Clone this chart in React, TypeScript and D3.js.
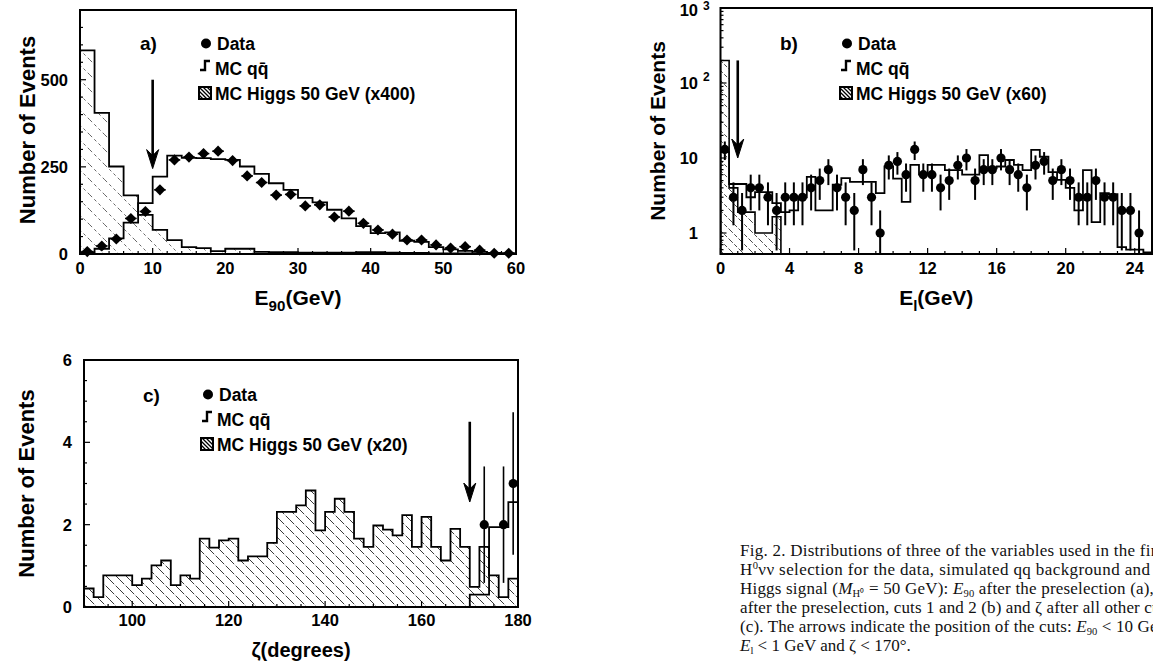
import React from 'react';
import * as d3 from 'd3';

// ---------- Panel a : E90 (2 GeV bins from 0 to 60) ----------
const e90BinStart = 0;
const e90BinWidth = 2;
const e90Data = [7, 23, 43, 102, 122, 184, 270, 278, 288, 295, 268, 224, 205, 169, 171, 138, 141, 106, 123, 88, 69, 57, 40, 40, 26, 17, 21, 11, 2, 2];
const e90QQ = [5, 15, 45, 90, 146, 222, 282, 276, 275, 272, 270, 251, 230, 203, 184, 161, 148, 127, 102, 80, 60, 62, 38, 35, 20, 13, 9, 6, 3, 2];
const e90Higgs = [584, 405, 251, 168, 112, 69, 40, 20, 17, 8, 15, 15, 6, 5, 5, 4, 4, 4, 4, 5, 5, 4, 3, 3, 2, 2, 2, 1, 1, 1];
const e90XTicks = [0, 10, 20, 30, 40, 50, 60];
const e90YTicks = [0, 250, 500];

// ---------- Panel b : El (0.5 GeV bins from 0 to 25), log scale ----------
const elBinStart = 0;
const elBinWidth = 0.5;
const elData = [13, 3, 2, 4, 4, 3, 2, 3, 3, 3, 4, 5, 7, 4, 3, 2, 7, 3, 1, 8, 9, 6, 13, 6, 6, 4, 5, 8, 10, 5, 7, 7, 10, 7, 6, 4, 8, 9, 5, 7, 5, 3, 3, 5, 3, 3, 2, 2, 1];
const elQQ = [12, 4.5, 4.5, 3, 3.5, 3.5, 2.5, 1.9, 2, 3, 5.6, 2, 2, 4.4, 5.4, 4.8, 4.8, 4.8, 3.4, 7.7, 5.3, 2.6, 8.1, 6, 8.1, 8.1, 6.9, 6.9, 6, 6, 10.9, 7.3, 7.7, 9.4, 8.1, 6.9, 12.8, 10.4, 6.5, 5.1, 4, 2, 6.9, 1.4, 3.4, 3.3, 0.65, 0.6, 0.6, 0.55];
const elHiggs = [200, 4, 1.9, 1.9, 1, 1, 1.65];
const elXTicks = [0, 4, 8, 12, 16, 20, 24];
const elYTicks = [1, 10, 100, 1000];
const elYTickBase = ['1', '10', '10', '10'];
const elYTickExp = ['', '', '2', '3'];

// ---------- Panel c : zeta (2 degree bins from 90 to 180) ----------
const zetaBinStart = 90;
const zetaBinWidth = 2;
const zetaHiggs = [0.45, 0.24, 0.77, 0.77, 0.77, 0.53, 0.69, 1.01, 1.13, 0.53, 0.77, 0.69, 1.66, 1.44, 1.62, 1.66, 1.13, 1.23, 1.23, 1.56, 2.31, 2.31, 2.47, 2.83, 1.86, 2.31, 2.63, 2.31, 1.66, 1.46, 1.98, 1.88, 1.74, 2.23, 1.46, 2.19, 1.46, 1.13, 1.9, 1.46, 0.49, 1.46, 0.77, 0.24, 0.69];
const zetaQQ = [0, 0, 0, 0, 0, 0, 0, 0, 0, 0, 0, 0, 0, 0, 0, 0, 0, 0, 0, 0, 0, 0, 0, 0, 0, 0, 0, 0, 0, 0, 0, 0, 0, 0, 0, 0, 0, 0, 0, 0, 0.3, 0.3, 1.94, 1.94, 2.55];
const zetaDataX = [173, 177, 179];
const zetaDataY = [2, 2, 3];
const zetaXTicks = [100, 120, 140, 160, 180];
const zetaYTicks = [0, 2, 4, 6];

// cut arrows (data units)
const cutA = { x: 10, from: 500, to: 245 };
const cutB = { x: 1, from: 200, to: 10 };
const cutC = { x: 170, from: 4.5, to: 2.55 };

type Seg = { t: string; k?: 'sub' | 'sup' | 'i' | 'isub' };
const captionLines: Seg[][] = [
  [{ t: 'Fig. 2. Distributions of three of the variables used in the final' }],
  [{ t: 'H' }, { t: '0', k: 'sup' }, { t: 'νν selection for the data, simulated qq background and' }],
  [{ t: 'Higgs signal (' }, { t: 'M', k: 'i' }, { t: 'H⁰', k: 'sub' }, { t: ' = 50 GeV): ' }, { t: 'E', k: 'i' }, { t: '90', k: 'sub' }, { t: ' after the preselection (a), ' }, { t: 'E', k: 'i' }, { t: 'l', k: 'sub' }],
  [{ t: 'after the preselection, cuts 1 and 2 (b) and ζ after all other cuts' }],
  [{ t: '(c). The arrows indicate the position of the cuts: ' }, { t: 'E', k: 'i' }, { t: '90', k: 'sub' }, { t: ' < 10 GeV,' }],
  [{ t: 'E', k: 'i' }, { t: 'l', k: 'sub' }, { t: ' < 1 GeV and ζ < 170°.' }],
];
const captionWidths = [432, 410, 432, 432, 432, 0];

const SANS = '"Liberation Sans", Arial, Helvetica, sans-serif';
const SERIF = '"Liberation Serif", "Times New Roman", serif';

function Segs({ segs, size, subShift = 0.3, supShift = 0.4, small = 0.72 }: { segs: Seg[]; size: number; subShift?: number; supShift?: number; small?: number }) {
  let shift = 0;
  return (
    <>
      {segs.map((s, i) => {
        const target = s.k === 'sub' || s.k === 'isub' ? size * subShift : s.k === 'sup' ? -size * supShift : 0;
        const dy = target - shift;
        shift = target;
        const isSmall = s.k === 'sub' || s.k === 'sup' || s.k === 'isub';
        return (
          <tspan key={i} dy={dy} fontSize={isSmall ? size * small : size} fontStyle={s.k === 'i' || s.k === 'isub' ? 'italic' : undefined}>
            {s.t}
          </tspan>
        );
      })}
    </>
  );
}

function stepPath(start: number, w: number, vals: number[], xs: (v: number) => number, ys: (v: number) => number, floor: number, nBins?: number) {
  const n = nBins ?? vals.length;
  const pts: [number, number][] = [[start, floor]];
  for (let i = 0; i < n; i++) {
    const v = vals[i] ?? floor;
    pts.push([start + i * w, v]);
    pts.push([start + (i + 1) * w, v]);
  }
  pts.push([start + n * w, floor]);
  return d3
    .line<[number, number]>()
    .x((d) => xs(d[0]))
    .y((d) => ys(Math.max(d[1], floor)))(pts) as string;
}

function Arrow({ x, y0, y1 }: { x: number; y0: number; y1: number }) {
  return (
    <g>
      <line x1={x} x2={x} y1={y0} y2={y1 - 10} stroke="#000" strokeWidth={2.6} />
      <path d={`M${x},${y1} L${x - 6},${y1 - 19} L${x},${y1 - 13} L${x + 6},${y1 - 19} Z`} fill="#000" stroke="#000" strokeWidth={1} />
    </g>
  );
}

function Legend({ x, y, scale }: { x: number; y: number; scale: string }) {
  // x = text start, y = baseline of first row
  return (
    <g fontFamily={SANS} fontWeight="bold" fontSize={17.5}>
      <circle cx={x - 11} cy={y - 6.5} r={5} fill="#000" />
      <text x={x} y={y}>Data</text>
      <path d={`M${x - 17},${y + 20} H${x - 12} V${y + 11} H${x - 7}`} fill="none" stroke="#000" strokeWidth={2.4} />
      <text x={x - 2} y={y + 25}>MC qq̄</text>
      <rect x={x - 18} y={y + 37} width={12} height={12} fill="url(#hatchLegend)" stroke="#000" strokeWidth={2} />
      <text x={x - 2} y={y + 50}>{`MC Higgs 50 GeV (${scale})`}</text>
    </g>
  );
}

export default function App() {
  const W = 1153;
  const H = 665;

  // Panel a scales
  const ax = d3.scaleLinear().domain([0, 60]).range([80, 516]);
  const ay = d3.scaleLinear().domain([0, 700]).range([254, 10]);
  // Panel b scales
  const bx = d3.scaleLinear().domain([0, 25]).range([720.5, 1152]);
  const by = d3.scaleLog().domain([0.525, 1000]).range([254, 8]);
  // Panel c scales
  const cx = d3.scaleLinear().domain([90, 180]).range([84, 518]);
  const cy = d3.scaleLinear().domain([0, 6]).range([607, 360]);

  const diamond = d3.symbol(d3.symbolSquare, 62)() as string;

  const aHiggsPath = stepPath(e90BinStart, e90BinWidth, e90Higgs, ax, ay, 0);
  const aQQPath = stepPath(e90BinStart, e90BinWidth, e90QQ, ax, ay, 0);
  const bHiggsPath = stepPath(elBinStart, elBinWidth, elHiggs, bx, by, 0.525, 8);
  const bQQPath = stepPath(elBinStart, elBinWidth, elQQ, bx, by, 0.525);
  const cHiggsPath = stepPath(zetaBinStart, zetaBinWidth, zetaHiggs, cx, cy, 0);
  const cQQPath = stepPath(zetaBinStart, zetaBinWidth, zetaQQ, cx, cy, 0);

  const bMin = 0.525;

  return (
    <svg width={W} height={H} viewBox={`0 0 ${W} ${H}`} style={{ position: 'absolute', left: 0, top: 0, background: '#fff' }}>
      <defs>
        <pattern id="hatchA" patternUnits="userSpaceOnUse" width={15} height={15}>
          <path d="M0,0 L15,15 M-7.5,7.5 L7.5,22.5 M7.5,-7.5 L22.5,7.5" stroke="#555" strokeWidth={0.9} strokeDasharray="3 3" />
        </pattern>
        <pattern id="hatchB" patternUnits="userSpaceOnUse" width={10} height={10}>
          <path d="M0,0 L10,10 M-5,5 L5,15 M5,-5 L15,5" stroke="#333" strokeWidth={0.9} strokeDasharray="4 2" />
        </pattern>
        <pattern id="hatchC" patternUnits="userSpaceOnUse" width={10} height={10}>
          <path d="M0,0 L10,10 M-5,5 L5,15 M5,-5 L15,5" stroke="#222" strokeWidth={0.9} strokeDasharray="6 2" />
        </pattern>
        <pattern id="hatchLegend" patternUnits="userSpaceOnUse" width={4} height={4}>
          <path d="M0,0 L4,4 M-2,2 L2,6 M2,-2 L6,2" stroke="#000" strokeWidth={1.3} />
        </pattern>
        <clipPath id="clipB">
          <rect x={720.5} y={8} width={431.5} height={246} />
        </clipPath>
      </defs>

      {/* ================= Panel a ================= */}
      <g>
        <path d={aHiggsPath + 'Z'} fill="url(#hatchA)" stroke="none" />
        <path d={aHiggsPath} fill="none" stroke="#000" strokeWidth={1.8} />
        <path d={aQQPath} fill="none" stroke="#000" strokeWidth={1.8} />
        {e90Data.map((v, i) => {
          const xc = e90BinStart + (i + 0.5) * e90BinWidth;
          return (
            <g key={i}>
              <line x1={ax(xc - 0.8)} x2={ax(xc + 0.8)} y1={ay(v)} y2={ay(v)} stroke="#000" strokeWidth={1.5} />
              <path d={diamond} transform={`translate(${ax(xc)},${ay(v)}) rotate(45)`} fill="#000" />
            </g>
          );
        })}
        <rect x={ax(0)} y={ay(700)} width={ax(60) - ax(0)} height={ay(0) - ay(700)} fill="none" stroke="#000" strokeWidth={2} />
        {d3.range(0, 61, 2).map((t) => (
          <line key={'amx' + t} x1={ax(t)} x2={ax(t)} y1={ay(0)} y2={ay(0) - (t % 10 === 0 ? 6 : 3)} stroke="#000" strokeWidth={1.2} />
        ))}
        {d3.range(0, 701, 50).map((t) => (
          <line key={'amy' + t} x1={ax(0)} x2={ax(0) + (t % 250 === 0 ? 6 : 3)} y1={ay(t)} y2={ay(t)} stroke="#000" strokeWidth={1.2} />
        ))}
        <g fontFamily={SANS} fontWeight="bold" fontSize={16.5}>
          {e90XTicks.map((t) => (
            <text key={'ax' + t} x={ax(t)} y={ay(0) + 20} textAnchor="middle">{t}</text>
          ))}
          {e90YTicks.map((t) => (
            <text key={'ay' + t} x={ax(0) - 12} y={ay(t) + 6} textAnchor="end">{t}</text>
          ))}
        </g>
        <text transform={`translate(35,${(ay(0) + ay(700)) / 2 - 2}) rotate(-90)`} textAnchor="middle" fontFamily={SANS} fontWeight="bold" fontSize={22}>
          Number of Events
        </text>
        <text x={(ax(0) + ax(60)) / 2} y={305} textAnchor="middle" fontFamily={SANS} fontWeight="bold" fontSize={21}>
          <Segs segs={[{ t: 'E' }, { t: '90', k: 'sub' }, { t: '(GeV)' }]} size={21} />
        </text>
        <text x={140} y={50} fontFamily={SANS} fontWeight="bold" fontSize={19}>a)</text>
        <Legend x={217} y={50} scale="x400" />
        <Arrow x={ax(cutA.x)} y0={ay(cutA.from)} y1={ay(cutA.to)} />
      </g>

      {/* ================= Panel b ================= */}
      <g>
        <g clipPath="url(#clipB)">
          <path d={bHiggsPath + 'Z'} fill="url(#hatchB)" stroke="none" />
          <path d={bHiggsPath} fill="none" stroke="#000" strokeWidth={1.6} />
          <path d={bQQPath} fill="none" stroke="#000" strokeWidth={1.8} />
        </g>
        {elData.map((v, i) => {
          const xc = elBinStart + (i + 0.5) * elBinWidth;
          const e = Math.sqrt(v);
          return (
            <g key={i}>
              <line x1={bx(xc)} x2={bx(xc)} y1={by(Math.max(v - e, bMin))} y2={by(v + e)} stroke="#000" strokeWidth={2} />
              <circle cx={bx(xc)} cy={by(v)} r={4.6} fill="#000" />
            </g>
          );
        })}
        <rect x={bx(0)} y={by(1000)} width={bx(25) - bx(0)} height={by(bMin) - by(1000)} fill="none" stroke="#000" strokeWidth={2} />
        {d3.range(0, 25, 1).map((t) => (
          <line key={'bmx' + t} x1={bx(t)} x2={bx(t)} y1={by(bMin)} y2={by(bMin) - (t % 4 === 0 ? 6 : 3)} stroke="#000" strokeWidth={1.2} />
        ))}
        {[0.6, 0.7, 0.8, 0.9, 1, 2, 3, 4, 5, 6, 7, 8, 9, 10, 20, 30, 40, 50, 60, 70, 80, 90, 100, 200, 300, 400, 500, 600, 700, 800, 900].map((t) => (
          <line key={'bmy' + t} x1={bx(0)} x2={bx(0) + (elYTicks.includes(t) ? 6 : 3)} y1={by(t)} y2={by(t)} stroke="#000" strokeWidth={1.2} />
        ))}
        <g fontFamily={SANS} fontWeight="bold" fontSize={16.5}>
          {elXTicks.map((t) => (
            <text key={'bx' + t} x={bx(t)} y={by(bMin) + 20} textAnchor="middle">{t}</text>
          ))}
          {elYTicks.map((t, i) => (
            <text key={'by' + t} x={698} y={Math.max(by(t) + 6, 16)} textAnchor="end">
              {elYTickBase[i]}
            </text>
          ))}
          {elYTicks.map((t, i) =>
            elYTickExp[i] ? (
              <text key={'bye' + t} x={703} y={Math.max(by(t) - 2, 10)} fontSize={12}>{elYTickExp[i]}</text>
            ) : null
          )}
        </g>
        <text transform={`translate(665,${(by(bMin) + by(1000)) / 2}) rotate(-90)`} textAnchor="middle" fontFamily={SANS} fontWeight="bold" fontSize={21}>
          Number of Events
        </text>
        <text x={(bx(0) + bx(25)) / 2} y={305} textAnchor="middle" fontFamily={SANS} fontWeight="bold" fontSize={21}>
          <Segs segs={[{ t: 'E' }, { t: 'l', k: 'sub' }, { t: '(GeV)' }]} size={21} />
        </text>
        <text x={780} y={50} fontFamily={SANS} fontWeight="bold" fontSize={19}>b)</text>
        <Legend x={858} y={50} scale="x60" />
        <Arrow x={bx(cutB.x)} y0={by(cutB.from)} y1={by(cutB.to)} />
      </g>

      {/* ================= Panel c ================= */}
      <g>
        <path d={cHiggsPath + 'Z'} fill="url(#hatchC)" stroke="none" />
        <path d={cHiggsPath} fill="none" stroke="#000" strokeWidth={1.8} />
        <path d={cQQPath} fill="none" stroke="#000" strokeWidth={1.8} />
        {zetaDataX.map((xv, i) => {
          const v = zetaDataY[i];
          const e = Math.sqrt(v);
          return (
            <g key={i}>
              <line x1={cx(xv)} x2={cx(xv)} y1={cy(v - e)} y2={cy(v + e)} stroke="#000" strokeWidth={1.6} />
              <circle cx={cx(xv)} cy={cy(v)} r={4.6} fill="#000" />
            </g>
          );
        })}
        <rect x={cx(90)} y={cy(6)} width={cx(180) - cx(90)} height={cy(0) - cy(6)} fill="none" stroke="#000" strokeWidth={2} />
        {d3.range(90, 181, 5).map((t) => (
          <line key={'cmx' + t} x1={cx(t)} x2={cx(t)} y1={cy(0)} y2={cy(0) - (t % 20 === 0 ? 6 : 3)} stroke="#000" strokeWidth={1.2} />
        ))}
        {d3.range(0, 6.01, 0.5).map((t) => (
          <line key={'cmy' + t} x1={cx(90)} x2={cx(90) + (t % 2 === 0 ? 6 : 3)} y1={cy(t)} y2={cy(t)} stroke="#000" strokeWidth={1.2} />
        ))}
        <g fontFamily={SANS} fontWeight="bold" fontSize={16.5}>
          {zetaXTicks.map((t) => (
            <text key={'cx' + t} x={cx(t)} y={cy(0) + 19} textAnchor="middle">{t}</text>
          ))}
          {zetaYTicks.map((t) => (
            <text key={'cy' + t} x={cx(90) - 12} y={cy(t) + 6} textAnchor="end">{t}</text>
          ))}
        </g>
        <text transform={`translate(34,${(cy(0) + cy(6)) / 2}) rotate(-90)`} textAnchor="middle" fontFamily={SANS} fontWeight="bold" fontSize={22}>
          Number of Events
        </text>
        <text x={(cx(90) + cx(180)) / 2} y={657} textAnchor="middle" fontFamily={SANS} fontWeight="bold" fontSize={20}>
          ζ(degrees)
        </text>
        <text x={143} y={402} fontFamily={SANS} fontWeight="bold" fontSize={19}>c)</text>
        <Legend x={219} y={401} scale="x20" />
        <Arrow x={cx(cutC.x)} y0={cy(cutC.from)} y1={cy(cutC.to)} />
      </g>

      {/* ================= Caption ================= */}
      <g fontFamily={SERIF} fontSize={17} fill="#111">
        {captionLines.map((segs, i) => (
          <text
            key={i}
            x={740}
            y={556 + i * 19}
            {...(captionWidths[i] ? { textLength: captionWidths[i], lengthAdjust: 'spacing' } : {})}
          >
            <Segs segs={segs} size={17} subShift={0.18} supShift={0.35} small={0.62} />
          </text>
        ))}
      </g>
    </svg>
  );
}
